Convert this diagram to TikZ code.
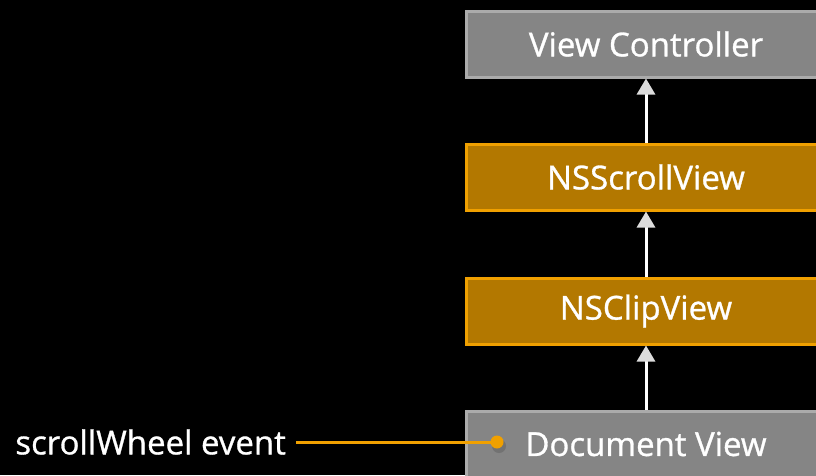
\documentclass[tikz,border=0pt]{standalone}
\usepackage{fontspec}
\setmainfont{Open Sans}
\newfontfamily\labelfam[FakeBold=0.9]{Open Sans}
\usetikzlibrary{arrows.meta}
\definecolor{boxgray}{HTML}{858585}
\definecolor{edgegray}{HTML}{ABABAB}
\definecolor{boxorange}{HTML}{B37800}
\definecolor{edgeorange}{HTML}{F0A000}
\definecolor{tipgray}{HTML}{DCDCDC}
\tikzset{
  labelfont/.style={text=white, font=\labelfam\fontsize{33}{38}\selectfont},
  grayview/.style={draw=edgegray, fill=boxgray, line width=3pt, minimum width=360pt, minimum height=66pt, labelfont},
  orangeview/.style={grayview, draw=edgeorange, fill=boxorange},
  uparrow/.style={draw=white, line width=3pt, -{Triangle[length=16pt,width=18pt,fill=tipgray,color=tipgray]}},
}
\begin{document}
\begin{tikzpicture}[x=1pt,y=-1pt]
\fill[black] (0,0) rectangle (816,475);
\useasboundingbox (0,0) rectangle (816,475);
\node[grayview] (vc) at (646,44) {View Controller};
\node[orangeview] (sv) at (646,177) {NSScrollView};
\node[orangeview] (cv) at (646,311) {NSClipView};
\node[grayview] (dv) at (646,444) {Document View};
\draw[uparrow] (sv.north) -- (vc.south);
\draw[uparrow] (cv.north) -- (sv.south);
\draw[uparrow] (dv.north) -- (cv.south);
\node[labelfont, inner sep=0pt, anchor=east] (ev) at (286,442) {scrollWheel event};
\coordinate (dot) at (497,442);
\fill[black!60, opacity=0.6] (499,446) circle (7);
\draw[edgeorange, line width=3pt] (ev.east) ++(10,0) -- (dot);
\fill[edgeorange] (dot) circle (6.5);
\end{tikzpicture}
\end{document}
